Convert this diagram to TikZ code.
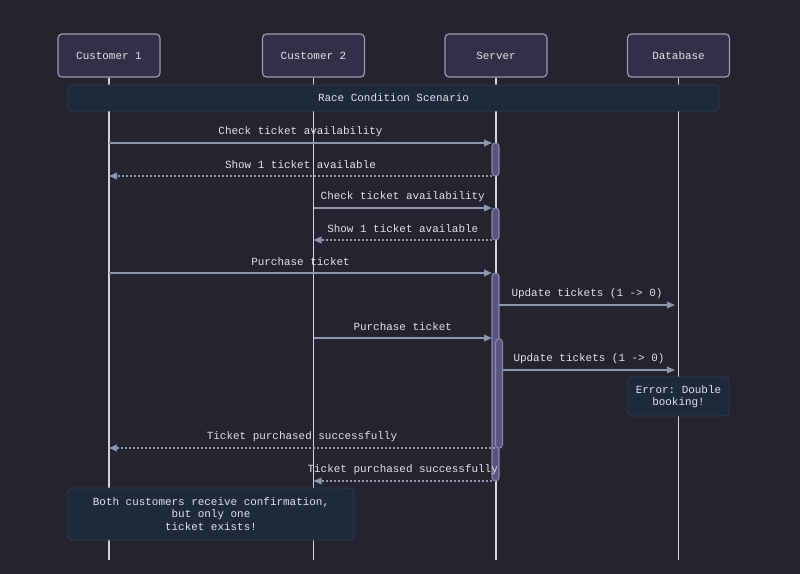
\documentclass[tikz,border=0pt]{standalone}
\usepackage{fontspec}
\setmonofont{Liberation Mono}
\usetikzlibrary{arrows.meta}
\definecolor{bg}{HTML}{252330}
\definecolor{actfill}{HTML}{332F48}
\definecolor{actdraw}{HTML}{9C9AAC}
\definecolor{txt}{HTML}{E2E2EA}
\definecolor{life}{HTML}{D2D2DA}
\definecolor{msg}{HTML}{8E96AE}
\definecolor{notefill}{HTML}{1E293B}
\definecolor{notedraw}{HTML}{2E3B50}
\definecolor{actvfill}{HTML}{5A5580}
\definecolor{actvdraw}{HTML}{8A86A8}
\tikzset{
  actor/.style={draw=actdraw, fill=actfill, line width=0.9pt, rounded corners=3pt,
    minimum width=76.5pt, minimum height=32.25pt, text=txt, font=\ttfamily\fontsize{8.2}{10}\selectfont, inner sep=0pt},
  lifeline/.style={draw=life, line width=1.1pt},
  notebox/.style={draw=notedraw, fill=notefill, line width=0.7pt, rounded corners=3pt, text=txt,
    font=\ttfamily\fontsize{8.2}{9.4}\selectfont, align=center, inner sep=0pt},
  activation/.style={draw=actvdraw, fill=actvfill, line width=0.8pt, rounded corners=2.6pt,
    minimum width=5.25pt, inner sep=0pt},
  msgline/.style={draw=msg, line width=0.9pt, -{Triangle[length=6pt,width=5pt]}},
  replyline/.style={msgline, dash pattern=on 1.6pt off 1.4pt},
  msglabel/.style={midway, yshift=8.2pt, text=txt, font=\ttfamily\fontsize{8.2}{10}\selectfont, inner sep=0pt}
}
\begin{document}
\begin{tikzpicture}[x=0.75pt, y=-0.75pt]
\fill[bg] (0,0) rectangle (800,574);
\useasboundingbox (0,0) rectangle (800,574);

% actors
\node[actor] (c1) at (109,55.5) {Customer 1};
\node[actor] (c2) at (313.5,55.5) {Customer 2};
\node[actor] (sv) at (496,55.5) {Server};
\node[actor] (db) at (678.5,55.5) {Database};

% lifeline ends
\coordinate (c1e) at (109,560);
\coordinate (c2e) at (313.5,560);
\coordinate (sve) at (496,560);
\coordinate (dbe) at (678.5,560);
\draw[lifeline] (c1) -- (c1e);
\draw[lifeline] (c2) -- (c2e);
\draw[lifeline] (sv) -- (sve);
\draw[lifeline] (db) -- (dbe);

% race note
\node[notebox, minimum width=488.25pt, minimum height=19.5pt] (race) at (393.5,98) {Race Condition Scenario};

% activations
\node[activation, minimum height=24.75pt] (a1) at (495.5,159.5) {};
\node[activation, minimum height=24pt] (a2) at (495.5,224) {};
\node[activation, minimum height=156pt] (a3) at (495.5,377) {};
\node[activation, minimum height=82pt] (a4) at (499,393.5) {};

% message end points
\coordinate (m1s) at (109,143);   \coordinate (m1e) at (492,143);
\coordinate (m2s) at (492,176);   \coordinate (m2e) at (109,176);
\coordinate (m3s) at (313.5,208); \coordinate (m3e) at (492,208);
\coordinate (m4s) at (492,240);   \coordinate (m4e) at (313.5,240);
\coordinate (m5s) at (109,273);   \coordinate (m5e) at (492,273);
\coordinate (m6s) at (499,305);   \coordinate (m6e) at (675,305);
\coordinate (m7s) at (313.5,338); \coordinate (m7e) at (492,338);
\coordinate (m8s) at (503,370);   \coordinate (m8e) at (675,370);
\coordinate (m9s) at (495,448);   \coordinate (m9e) at (109,448);
\coordinate (m10s) at (492,481);  \coordinate (m10e) at (313.5,481);

\draw[msgline] (m1s) -- (m1e) node[msglabel] {Check ticket availability};
\draw[replyline] (m2s) -- (m2e) node[msglabel] {Show 1 ticket available};
\draw[msgline] (m3s) -- (m3e) node[msglabel] {Check ticket availability};
\draw[replyline] (m4s) -- (m4e) node[msglabel] {Show 1 ticket available};
\draw[msgline] (m5s) -- (m5e) node[msglabel] {Purchase ticket};
\draw[msgline] (m6s) -- (m6e) node[msglabel] {Update tickets (1 -> 0)};
\draw[msgline] (m7s) -- (m7e) node[msglabel] {Purchase ticket};
\draw[msgline] (m8s) -- (m8e) node[msglabel] {Update tickets (1 -> 0)};

% error note
\node[notebox, minimum width=75.75pt, minimum height=29.25pt] (err) at (678.5,396.5) {Error: Double\\booking!};

\draw[replyline] (m9s) -- (m9e) node[msglabel] {Ticket purchased successfully};
\draw[replyline] (m10s) -- (m10e) node[msglabel] {Ticket purchased successfully};

% bottom note
\node[notebox, minimum width=214.5pt, minimum height=39pt] (conf) at (211,514) {Both customers receive confirmation,\\but only one\\ticket exists!};
\end{tikzpicture}
\end{document}
